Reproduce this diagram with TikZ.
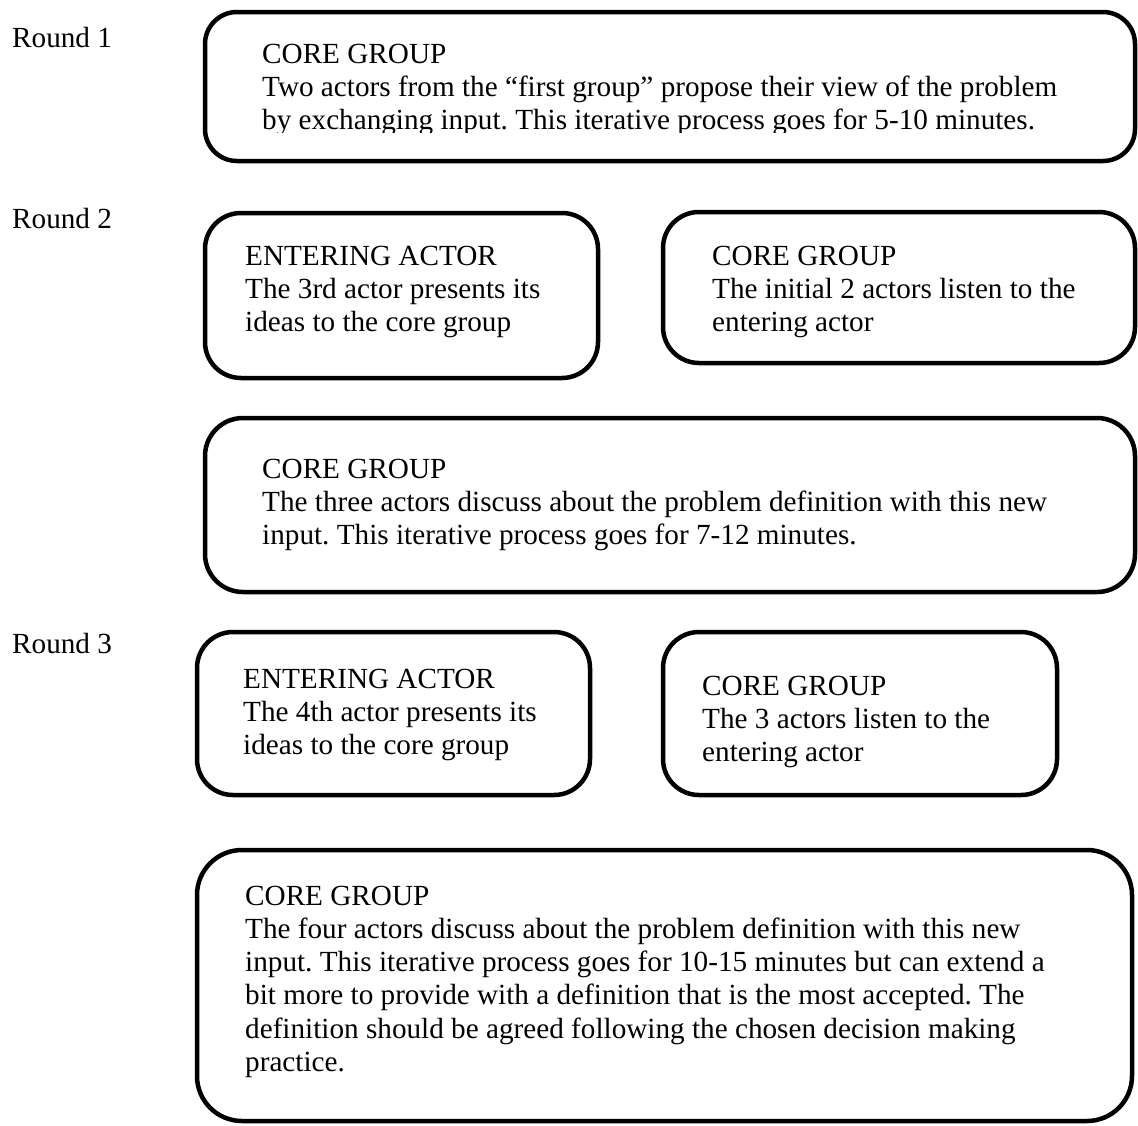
\documentclass[tikz,border=0pt]{standalone}
\usepackage{fontspec}
\setmainfont{Liberation Serif}
\frenchspacing
% lines of a text block; the block's baseline is that of its first line
\newcommand\blocklines[1]{\vtop{\halign{##\hfil\cr#1\crcr}}}
\begin{document}
\begin{tikzpicture}[x=1pt,y=-1pt,
  panel/.style={draw=black, line width=4.5pt, rounded corners=#1},
  panel/.default=34pt,
  body/.style={anchor=base west, inner sep=0pt,
    font=\fontsize{29.2}{33.3}\selectfont},
  roundlabel/.style={anchor=base west, inner sep=0pt,
    font=\fontsize{29.2}{33.3}\selectfont}]
\useasboundingbox (0,0) rectangle (1138,1125);

% round labels
\node[roundlabel] (r1) at (12,47)  {Round 1};
\node[roundlabel] (r2) at (12,228) {Round 2};
\node[roundlabel] (r3) at (12,653) {Round 3};

% round 1
\draw[panel=32pt] (205,12) rectangle (1135,161);
\begin{scope}
  \clip (0,0) rectangle (1138,132);
  \node[body] (core1) at (262,63) {\blocklines{%
    CORE GROUP\cr
    Two actors from the “first group” propose their view of the problem\cr
    by exchanging input. This iterative process goes for 5-10 minutes.}};
\end{scope}

% round 2
\draw[panel=36pt] (205,213) rectangle (598,378);
\node[body] (enter2) at (245,265) {\blocklines{%
  ENTERING ACTOR\cr
  The 3rd actor presents its\cr
  ideas to the core group}};

\draw[panel=36pt] (663,212) rectangle (1135,363);
\node[body] (listen2) at (712,265) {\blocklines{%
  CORE GROUP\cr
  The initial 2 actors listen to the\cr
  entering actor}};

\draw[panel=38pt] (205,418) rectangle (1135,592);
\node[body] (core2) at (262,478) {\blocklines{%
  CORE GROUP\cr
  The three actors discuss about the problem definition with this new\cr
  input. This iterative process goes for 7-12 minutes.}};

% round 3
\draw[panel=36pt] (197,632) rectangle (590,795);
\node[body] (enter3) at (243,688) {\blocklines{%
  ENTERING ACTOR\cr
  The 4th actor presents its\cr
  ideas to the core group}};

\draw[panel=36pt] (663,632) rectangle (1057,795);
\node[body] (listen3) at (702,695) {\blocklines{%
  CORE GROUP\cr
  The 3 actors listen to the\cr
  entering actor}};

\draw[panel=45pt] (197,850) rectangle (1132,1121);
\node[body] (core3) at (245,905) {\blocklines{%
  CORE GROUP\cr
  The four actors discuss about the problem definition with this new\cr
  input. This iterative process goes for 10-15 minutes but can extend a\cr
  bit more to provide with a definition that is the most accepted. The\cr
  definition should be agreed following the chosen decision making\cr
  practice.}};
\end{tikzpicture}
\end{document}
